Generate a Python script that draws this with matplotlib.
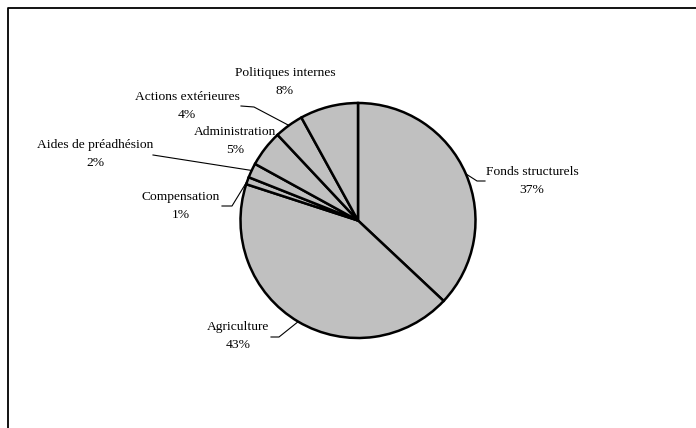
import matplotlib
matplotlib.use('agg')
import matplotlib.pyplot as plt
import numpy as np

# répartition du budget (%)
postes = ['Fonds structurels', 'Agriculture', 'Compensation', 'Aides de préadhésion',
          'Administration', 'Actions extérieures', 'Politiques internes']
parts = [37, 43, 1, 2, 5, 4, 8]

H = 428  # hauteur en pixels, axe y vers le haut

# position des étiquettes (x, y en pixels depuis le haut)
pos_texte = [(532, 172), (238, 327), (181, 197), (95, 145),
             (235, 132), (187, 97), (285, 73)]
# traits de rappel : coude puis extrémité côté texte (None = pas de trait)
traits = [[(477, 181), (485, 181)],
          [(279, 337), (271, 337)],
          [(232, 206), (222, 206)],
          [(153, 155)],
          None,
          [(254, 107), (241, 106)],
          None]

fig = plt.figure(figsize=(6.96, 4.28), dpi=100)
ax = fig.add_axes([0, 0, 1, 1])

centre = (358, H - 220.5)
rayon = 117.5
wedges, _ = ax.pie(parts, startangle=90, counterclock=False, colors=['#c0c0c0'] * len(parts),
                   center=centre, radius=rayon, frame=True,
                   wedgeprops=dict(edgecolor='black', linewidth=1.8))
ax.set_xlim(0, 696)
ax.set_ylim(0, H)
ax.axis('off')

police = dict(family='Liberation Serif', size=9.7, color='black')
for w, nom, v, (tx, ty), tr in zip(wedges, postes, parts, pos_texte, traits):
    ax.text(tx, H - ty, nom, ha='center', va='center', **police)
    ax.text(tx, H - ty - 17.5, '%d%%' % v, ha='center', va='center', **police)
    if tr is None:
        continue
    a = np.deg2rad((w.theta1 + w.theta2) / 2)
    xs = [centre[0] + rayon * np.cos(a)] + [p[0] for p in tr]
    ys = [centre[1] + rayon * np.sin(a)] + [H - p[1] for p in tr]
    ax.plot(xs, ys, color='black', linewidth=0.8)

# cadre du graphique
ax.plot([8, 8, 700], [-5, H - 8, H - 8], color='black', linewidth=1.3, clip_on=False)

fig.savefig('out.png', dpi=100)
